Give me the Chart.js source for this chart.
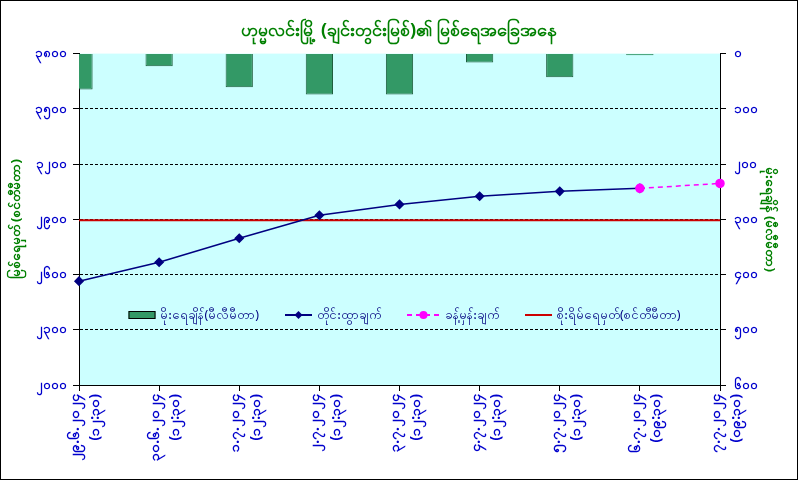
<!DOCTYPE html>
<html>
<head>
<meta charset="utf-8">
<script src="https://cdn.jsdelivr.net/npm/chart.js@4.4.1/dist/chart.umd.min.js"></script>
<style>
  body { margin: 0; background: #ffffff; }
  #wrap { width: 796px; height: 478px; border: 1px solid #000000; position: relative; }
</style>
</head>
<body>
<div id="wrap"><canvas id="riverChart"></canvas></div>
<script>
// ဒေတာ
var dates = ["၂၉.၆.၂၀၂၄", "၃၀.၆.၂၀၂၄", "၁.၇.၂၀၂၄", "၂.၇.၂၀၂၄", "၃.၇.၂၀၂၄", "၄.၇.၂၀၂၄", "၅.၇.၂၀၂၄", "၆.၇.၂၀၂၄", "၇.၇.၂၀၂၄"];
var times = ["(၁၂:၃၀)", "(၁၂:၃၀)", "(၁၂:၃၀)", "(၁၂:၃၀)", "(၁၂:၃၀)", "(၁၂:၃၀)", "(၁၂:၃၀)", "(၀၉:၃၀)", "(၀၉:၃၀)"];
var rainfall = [65, 23, 61, 74, 74, 16, 43, 3, null];
var waterLevel = [2564, 2667, 2797, 2922, 2981, 3025, 3052, 3068, null];
var forecast = [null, null, null, null, null, null, null, 3068, 3095];
var dangerLevel = [2895, 2895, 2895, 2895, 2895, 2895, 2895, 2895, 2895];

var leftTicks = { min: 2000, max: 3800, step: 300 };
var rightTicks = { min: 0, max: 600, step: 100 };

var mmFont = '"Noto Sans", "DejaVu Sans", sans-serif';
var tickBlue = "#0000CC";
var titleGreen = "#008000";

// ဂဏန်းကို မြန်မာဂဏန်းပြောင်း
function toMyanmarDigits(n) {
    var digits = ["၀", "၁", "၂", "၃", "၄", "၅", "၆", "၇", "၈", "၉"];
    return String(n).replace(/[0-9]/g, function (d) {
        return digits[+d];
    });
}

var labels = dates.map(function (d, i) {
    return [d, times[i]];
});

// ဇယားနောက်ခံ
var areaBackground = {
    id: "areaBackground",
    beforeDraw: function (chart) {
        var a = chart.chartArea;
        var ctx = chart.ctx;
        ctx.save();
        ctx.fillStyle = "#CCFFFF";
        ctx.fillRect(a.left, a.top, a.right - a.left, a.bottom - a.top);
        ctx.restore();
    },
};

// ဇယားအတွင်း legend
var insideLegend = {
    id: "insideLegend",
    afterDatasetsDraw: function (chart) {
        var ctx = chart.ctx;
        var a = chart.chartArea;
        var y = 314;
        var gap = 5;
        var spacing = 26;
        ctx.save();
        ctx.font = "12.5px " + mmFont;
        ctx.textBaseline = "middle";
        var items = chart.data.datasets;
        var symWidths = items.map(function (ds) {
            return ds.borderDash ? 33 : 27;
        });
        var widths = items.map(function (ds, i) {
            return symWidths[i] + gap + ctx.measureText(ds.label).width;
        });
        var total = widths.reduce(function (s, w) { return s + w; }, 0) + spacing * (items.length - 1);
        var x = (a.left + a.right) / 2 + 5 - total / 2;
        items.forEach(function (ds, i) {
            var symW = symWidths[i];
            if (ds.type === "bar") {
                ctx.fillStyle = ds.backgroundColor;
                ctx.strokeStyle = "#000000";
                ctx.lineWidth = 1;
                ctx.fillRect(x, y - 4, symW, 8);
                ctx.strokeRect(x + 0.5, y - 3.5, symW - 1, 7);
            } else {
                ctx.strokeStyle = ds.borderColor;
                ctx.lineWidth = 2;
                ctx.setLineDash(ds.borderDash || []);
                ctx.beginPath();
                ctx.moveTo(x, y);
                ctx.lineTo(x + symW, y);
                ctx.stroke();
                ctx.setLineDash([]);
                if (ds.pointRadius > 0) {
                    ctx.fillStyle = ds.pointBackgroundColor;
                    ctx.beginPath();
                    if (ds.pointStyle === "rectRot") {
                        ctx.moveTo(x + symW / 2, y - 4);
                        ctx.lineTo(x + symW / 2 + 4, y);
                        ctx.lineTo(x + symW / 2, y + 4);
                        ctx.lineTo(x + symW / 2 - 4, y);
                        ctx.closePath();
                    } else {
                        ctx.arc(x + symW / 2, y, 4, 0, Math.PI * 2);
                    }
                    ctx.fill();
                }
            }
            ctx.fillStyle = "#000080";
            ctx.textAlign = "left";
            ctx.fillText(ds.label, x + symW + gap, y);
            x += widths[i] + spacing;
        });
        ctx.restore();
    },
};

var ctx = document.getElementById("riverChart").getContext("2d");
var riverChart = new Chart(ctx, {
    data: {
        labels: labels,
        datasets: [
            {
                type: "bar",
                label: "မိုးရေချိန်(မီလီမီတာ)",
                data: rainfall,
                yAxisID: "y1",
                backgroundColor: "#339966",
                borderColor: "#1F5E3E",
                borderWidth: 1,
                barPercentage: 0.34,
                categoryPercentage: 1,
                order: 5,
            },
            {
                type: "line",
                label: "တိုင်းထွာချက်",
                data: waterLevel,
                yAxisID: "y",
                borderColor: "#000080",
                backgroundColor: "#000080",
                borderWidth: 1.5,
                pointStyle: "rectRot",
                pointRadius: 4,
                pointBackgroundColor: "#000080",
                pointBorderColor: "#000080",
                tension: 0,
                clip: false,
                order: 2,
            },
            {
                type: "line",
                label: "ခန့်မှန်းချက်",
                data: forecast,
                yAxisID: "y",
                borderColor: "#FF00FF",
                backgroundColor: "#FF00FF",
                borderWidth: 1.5,
                borderDash: [5, 4],
                pointStyle: "circle",
                pointRadius: 4,
                pointBackgroundColor: "#FF00FF",
                pointBorderColor: "#FF00FF",
                tension: 0,
                clip: false,
                order: 1,
            },
            {
                type: "line",
                label: "စိုးရိမ်ရေမှတ်(စင်တီမီတာ)",
                data: dangerLevel,
                yAxisID: "y",
                borderColor: "#CC0000",
                borderWidth: 2,
                pointRadius: 0,
                order: 3,
            },
        ],
    },
    options: {
        responsive: true,
        maintainAspectRatio: false,
        animation: false,
        layout: { padding: 0 },
        plugins: {
            legend: { display: false },
            tooltip: { enabled: false },
            title: {
                display: true,
                text: "ဟုမ္မလင်းမြို့ (ချင်းတွင်းမြစ်)၏ မြစ်ရေအခြေအနေ",
                color: titleGreen,
                font: { family: mmFont, size: 18, weight: "bold", lineHeight: 1.2 },
                padding: { top: 19, bottom: 12 },
            },
        },
        scales: {
            x: {
                offset: false,
                grid: {
                    offset: false,
                    drawOnChartArea: false,
                    drawTicks: true,
                    tickLength: 6,
                    color: "#000000",
                },
                border: { color: "#000000", width: 1 },
                ticks: {
                    color: tickBlue,
                    font: { family: mmFont, size: 14, weight: "bold", lineHeight: 1.45 },
                    minRotation: 90,
                    maxRotation: 90,
                    autoSkip: false,
                    padding: 3,
                    labelOffset: -4,
                },
                afterFit: function (scale) {
                    scale.height = 94;
                },
            },
            y: {
                position: "left",
                min: leftTicks.min,
                max: leftTicks.max,
                grid: {
                    color: function (c) {
                        var v = c.tick ? c.tick.value : null;
                        return v === leftTicks.min || v === leftTicks.max ? "rgba(0,0,0,0)" : "#000000";
                    },
                    tickColor: "#000000",
                    tickLength: 6,
                    lineWidth: 1,
                },
                border: { color: "#000000", width: 1, dash: [3, 2] },
                ticks: {
                    stepSize: leftTicks.step,
                    color: tickBlue,
                    font: { family: mmFont, size: 13, weight: "bold" },
                    padding: 6,
                    callback: function (v) {
                        return toMyanmarDigits(v);
                    },
                },
                title: {
                    display: true,
                    text: "မြစ်ရေမှတ် (စင်တီမီတာ)",
                    color: titleGreen,
                    font: { family: mmFont, size: 13, weight: "bold", lineHeight: 1.2 },
                    padding: { top: 7, bottom: 0 },
                },
                afterFit: function (scale) {
                    scale.width = 78;
                },
            },
            y1: {
                position: "right",
                reverse: true,
                min: rightTicks.min,
                max: rightTicks.max,
                grid: {
                    drawOnChartArea: false,
                    tickLength: 6,
                    color: "#000000",
                },
                border: { color: "#000000", width: 1 },
                ticks: {
                    stepSize: rightTicks.step,
                    color: tickBlue,
                    font: { family: mmFont, size: 13, weight: "bold" },
                    padding: 8,
                    callback: function (v) {
                        return toMyanmarDigits(v);
                    },
                },
                title: {
                    display: true,
                    text: "မိုးရေချိန် (မီလီမီတာ)",
                    color: titleGreen,
                    font: { family: mmFont, size: 13, weight: "bold", lineHeight: 1.2 },
                    padding: { top: 19, bottom: 0 },
                },
                afterFit: function (scale) {
                    scale.width = 77;
                },
            },
        },
    },
    plugins: [areaBackground, insideLegend],
});
</script>
</body>
</html>
